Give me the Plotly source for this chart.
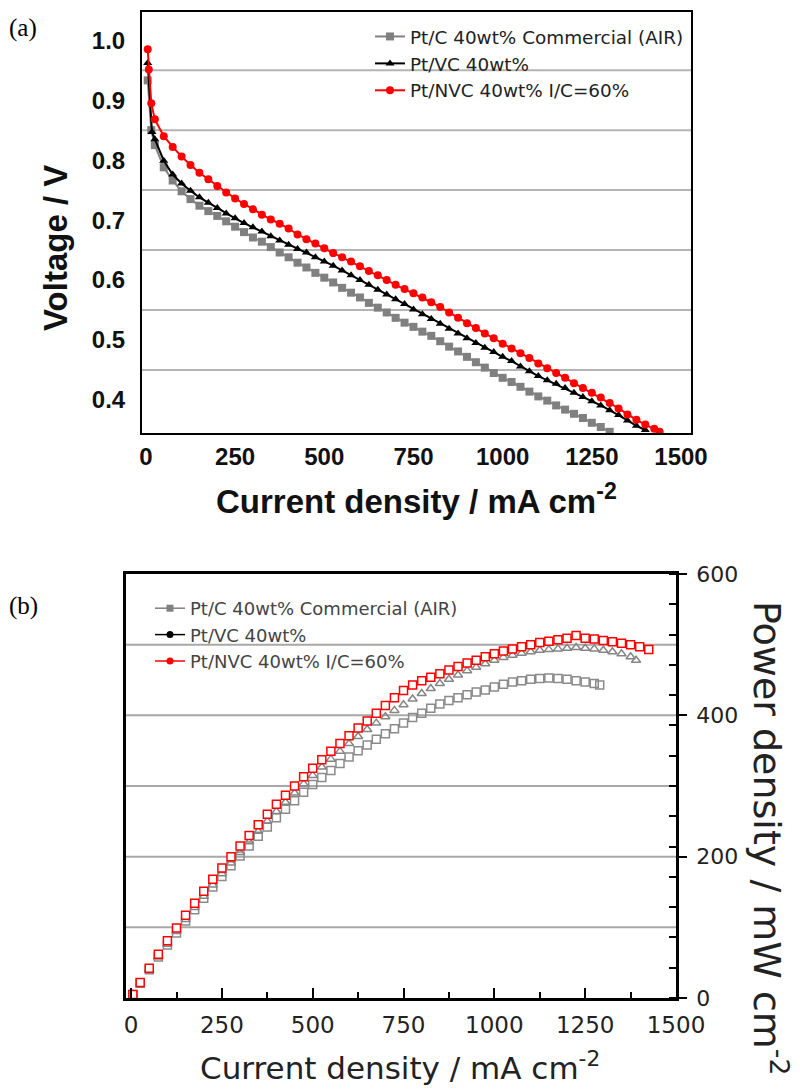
import plotly.graph_objects as go

# ---------------- Polarization data (panel a) ----------------
I_PTC = [5, 15, 25, 50, 75, 100, 125, 150, 175, 200, 225, 250, 275, 300, 325, 350, 375, 400,
         425, 450, 475, 500, 525, 550, 575, 600, 625, 650, 675, 700, 725, 750, 775, 800, 825,
         850, 875, 900, 925, 950, 975, 1000, 1025, 1050, 1075, 1100, 1125, 1150, 1175, 1200,
         1225, 1250, 1275, 1300]
V_PTC = [0.933, 0.850, 0.825, 0.788, 0.766, 0.748, 0.735, 0.724, 0.715, 0.707, 0.698, 0.689,
         0.680, 0.671, 0.664, 0.655, 0.646, 0.638, 0.629, 0.621, 0.612, 0.604, 0.596, 0.587,
         0.579, 0.571, 0.562, 0.554, 0.546, 0.537, 0.529, 0.522, 0.514, 0.507, 0.498, 0.489,
         0.481, 0.472, 0.463, 0.454, 0.445, 0.437, 0.430, 0.422, 0.414, 0.406, 0.399, 0.391,
         0.384, 0.377, 0.370, 0.362, 0.355, 0.347]

I_PTVC = [5, 17, 25, 50, 75, 100, 125, 150, 175, 200, 225, 250, 275, 300, 325, 350, 375, 400,
          425, 450, 475, 500, 525, 550, 575, 600, 625, 650, 675, 700, 725, 750, 775, 800, 825,
          850, 875, 900, 925, 950, 975, 1000, 1025, 1050, 1075, 1100, 1125, 1150, 1175, 1200,
          1225, 1250, 1275, 1300, 1325, 1350, 1375, 1400]
V_PTVC = [0.962, 0.847, 0.835, 0.799, 0.776, 0.761, 0.749, 0.738, 0.729, 0.720, 0.711, 0.703,
          0.695, 0.688, 0.681, 0.673, 0.666, 0.659, 0.652, 0.646, 0.638, 0.631, 0.624, 0.616,
          0.608, 0.600, 0.592, 0.584, 0.576, 0.568, 0.560, 0.551, 0.543, 0.535, 0.527, 0.519,
          0.511, 0.503, 0.495, 0.487, 0.480, 0.472, 0.465, 0.456, 0.448, 0.440, 0.433, 0.427,
          0.420, 0.412, 0.405, 0.398, 0.391, 0.383, 0.375, 0.366, 0.357, 0.350]

I_PTNVC = [5, 8, 15, 25, 50, 75, 100, 125, 150, 175, 200, 225, 250, 275, 300, 325, 350, 375,
           400, 425, 450, 475, 500, 525, 550, 575, 600, 625, 650, 675, 700, 725, 750, 775, 800,
           825, 850, 875, 900, 925, 950, 975, 1000, 1025, 1050, 1075, 1100, 1125, 1150, 1175,
           1200, 1225, 1250, 1275, 1300, 1325, 1350, 1375, 1400, 1425, 1440]
V_PTNVC = [0.985, 0.951, 0.895, 0.868, 0.840, 0.822, 0.806, 0.792, 0.779, 0.768, 0.757, 0.746,
           0.736, 0.727, 0.718, 0.709, 0.701, 0.694, 0.686, 0.676, 0.668, 0.661, 0.653, 0.645,
           0.638, 0.631, 0.623, 0.615, 0.608, 0.600, 0.592, 0.585, 0.578, 0.571, 0.563, 0.555,
           0.546, 0.537, 0.528, 0.520, 0.511, 0.503, 0.494, 0.486, 0.478, 0.470, 0.461, 0.453,
           0.445, 0.437, 0.428, 0.420, 0.412, 0.404, 0.395, 0.386, 0.376, 0.367, 0.359, 0.352,
           0.347]

# ---------------- Power density data (panel b) ----------------
IP_PTC = [5, 25, 50, 75, 100, 125, 150, 175, 200, 225, 250, 275, 300, 325, 350, 375, 400, 425,
          450, 475, 500, 525, 550, 575, 600, 625, 650, 675, 700, 725, 750, 775, 800, 825, 850,
          875, 900, 925, 950, 975, 1000, 1025, 1050, 1075, 1100, 1125, 1150, 1175, 1200, 1225,
          1250, 1275, 1290]
P_PTC = [5, 21, 40, 58, 75, 92, 109, 125, 141, 157, 172, 187, 201, 215, 229, 242, 255, 267,
         279, 291, 302, 312, 322, 332, 341, 350, 358, 366, 374, 381, 389, 397, 403, 410, 416,
         421, 425, 429, 433, 436, 440, 444, 447, 449, 451, 452, 453, 452, 451, 449, 447, 445,
         443]

IP_PTVC = [5, 25, 50, 75, 100, 125, 150, 175, 200, 225, 250, 275, 300, 325, 350, 375, 400, 425,
           450, 475, 500, 525, 550, 575, 600, 625, 650, 675, 700, 725, 750, 775, 800, 825, 850,
           875, 900, 925, 950, 975, 1000, 1025, 1050, 1075, 1100, 1125, 1150, 1175, 1200, 1225,
           1250, 1275, 1300, 1325, 1350, 1375, 1390]
P_PTVC = [5, 21, 40, 58, 76, 94, 111, 128, 144, 160, 176, 191, 206, 221, 236, 250, 264, 277,
          290, 303, 315, 327, 338, 349, 360, 370, 380, 389, 398, 407, 415, 423, 431, 438, 445,
          451, 457, 463, 468, 473, 478, 482, 485, 488, 490, 492, 493, 494, 495, 496, 495, 494,
          492, 490, 487, 483, 478]

IP_PTNVC = [5, 25, 50, 75, 100, 125, 150, 175, 200, 225, 250, 275, 300, 325, 350, 375, 400, 425,
            450, 475, 500, 525, 550, 575, 600, 625, 650, 675, 700, 725, 750, 775, 800, 825, 850,
            875, 900, 925, 950, 975, 1000, 1025, 1050, 1075, 1100, 1125, 1150, 1175, 1200, 1225,
            1250, 1275, 1300, 1325, 1350, 1375, 1400, 1425]
P_PTNVC = [5, 22, 42, 62, 81, 99, 117, 134, 151, 168, 184, 200, 215, 230, 245, 260, 274, 287,
           300, 313, 325, 337, 349, 360, 371, 382, 392, 403, 414, 425, 435, 443, 449, 454, 459,
           464, 469, 474, 478, 483, 487, 491, 494, 497, 500, 503, 505, 507, 509, 513, 509, 508,
           506, 504, 502, 500, 497, 493]

SERIES_NAMES = ["Pt/C 40wt% Commercial (AIR)", "Pt/VC 40wt%", "Pt/NVC 40wt% I/C=60%"]

V_TICKS = [0.4, 0.5, 0.6, 0.7, 0.8, 0.9, 1.0]
V_GRID = [0.45, 0.55, 0.65, 0.75, 0.85, 0.95]
I_TICKS = [0, 250, 500, 750, 1000, 1250, 1500]
P_TICKS = [0, 200, 400, 600]
P_GRID = [100, 200, 300, 400, 500]

W, H = 800, 1092
BOLD = "Liberation Sans"
PLAIN = "DejaVu Sans"
GRAY = "#808080"

fig = go.Figure()

# ---- panel (a): polarization curves ----
fig.add_trace(go.Scatter(x=I_PTC, y=V_PTC, name=SERIES_NAMES[0], mode="lines+markers",
                         line=dict(color=GRAY, width=2),
                         marker=dict(symbol="square", size=8, color=GRAY),
                         xaxis="x", yaxis="y", legend="legend"))
fig.add_trace(go.Scatter(x=I_PTVC, y=V_PTVC, name=SERIES_NAMES[1], mode="lines+markers",
                         line=dict(color="black", width=2),
                         marker=dict(symbol="triangle-up", size=8, color="black"),
                         xaxis="x", yaxis="y", legend="legend"))
fig.add_trace(go.Scatter(x=I_PTNVC, y=V_PTNVC, name=SERIES_NAMES[2], mode="lines+markers",
                         line=dict(color="#ff0000", width=2),
                         marker=dict(symbol="circle", size=8, color="#ff0000"),
                         xaxis="x", yaxis="y", legend="legend"))

# ---- panel (b): power density curves (open symbols) ----
fig.add_trace(go.Scatter(x=IP_PTC, y=P_PTC, mode="markers", showlegend=False,
                         marker=dict(symbol="square-open", size=8, color="#8a8a8a",
                                     line=dict(width=1.5)),
                         xaxis="x2", yaxis="y2"))
fig.add_trace(go.Scatter(x=IP_PTVC, y=P_PTVC, mode="markers", showlegend=False,
                         marker=dict(symbol="triangle-up-open", size=8, color="#858585",
                                     line=dict(width=1.5)),
                         xaxis="x2", yaxis="y2"))
fig.add_trace(go.Scatter(x=IP_PTNVC, y=P_PTNVC, mode="markers", showlegend=False,
                         marker=dict(symbol="square", size=8, color="white",
                                     line=dict(width=1.5, color="#ff0000")),
                         xaxis="x2", yaxis="y2"))

# legend entries for panel (b)
for name, col, sym in zip(SERIES_NAMES, [GRAY, "black", "#ff0000"], ["square", "circle", "circle"]):
    fig.add_trace(go.Scatter(x=[None], y=[None], name=name, mode="lines+markers",
                             line=dict(color=col, width=1.5),
                             marker=dict(symbol=sym, size=7, color=col),
                             xaxis="x2", yaxis="y2", legend="legend2"))

# horizontal grid lines
shapes = []
for v in V_GRID:
    shapes.append(dict(type="line", xref="x domain", yref="y", x0=0, x1=1, y0=v, y1=v,
                       line=dict(color="#b4b4b4", width=2), layer="below"))
for p in P_GRID:
    shapes.append(dict(type="line", xref="x2 domain", yref="y2", x0=0, x1=1, y0=p, y1=p,
                       line=dict(color="#a8a8a8", width=2), layer="below"))


def note(text, x, y, font, angle=0, xanchor="center"):
    return dict(text=text, x=x / W, y=1 - y / H, xref="paper", yref="paper", showarrow=False,
                textangle=angle, xanchor=xanchor, yanchor="middle", font=font)


serif = dict(family="Liberation Serif", size=25, color="black")
bold_title = dict(family=BOLD, size=33, color="#111", weight="bold")
plain_title = dict(family=PLAIN, size=31, color="#222")

annotations = [
    note("(a)", 7, 28, serif, xanchor="left"),
    note("(b)", 7, 606, serif, xanchor="left"),
    note("Voltage / V", 56, 248, bold_title, angle=-90),
    note("Current density / mA cm<sup>-2</sup>", 416, 499, bold_title),
    note("Current density / mA cm<sup>-2</sup>", 400, 1066, plain_title),
    note("Power density / mW cm<sup>-2</sup>", 770, 838, dict(family=PLAIN, size=38, color="#222"),
         angle=90),
]

fig.update_layout(
    template="none",
    width=W, height=H,
    margin=dict(l=0, r=0, t=0, b=0, pad=0),
    paper_bgcolor="white", plot_bgcolor="white",
    shapes=shapes, annotations=annotations,
    xaxis=dict(domain=[142 / W, 691 / W], range=[-11, 1528], tickvals=I_TICKS, automargin=False,
               showgrid=False, zeroline=False, showline=True, mirror=True,
               linecolor="black", linewidth=2, ticks="", ticklabelstandoff=1,
               tickfont=dict(family=BOLD, size=24, color="#111", weight="bold"), anchor="y"),
    yaxis=dict(domain=[1 - 433 / H, 1 - 12 / H], range=[0.345, 1.047], tickvals=V_TICKS,
               automargin=False,
               tickformat=".1f", showgrid=False, zeroline=False, showline=True, mirror=True,
               linecolor="black", linewidth=2, ticks="", ticklabelstandoff=10,
               tickfont=dict(family=BOLD, size=24, color="#111", weight="bold"), anchor="x"),
    xaxis2=dict(domain=[126 / W, 676 / W], range=[-14, 1500], tickvals=I_TICKS, automargin=False,
                showgrid=False, zeroline=False, showline=True, mirror=True,
                linecolor="black", linewidth=2.5, ticks="inside", ticklen=10, tickwidth=2,
                tickcolor="black",
                minor=dict(tickmode="linear", tick0=0, dtick=125, ticks="inside", ticklen=6,
                           tickwidth=2, tickcolor="black", showgrid=False),
                ticklabelstandoff=5,
                tickfont=dict(family=PLAIN, size=23, color="#222"), anchor="y2"),
    yaxis2=dict(domain=[1 - 998 / H, 1 - 574 / H], range=[0, 600], tickvals=P_TICKS,
                automargin=False,
                side="right", showgrid=False, zeroline=False, showline=True, mirror=True,
                linecolor="black", linewidth=2.5, ticks="outside", ticklen=8, tickwidth=2,
                tickcolor="black",
                minor=dict(tickmode="linear", tick0=0, dtick=600 / 14, ticks="inside",
                           ticklen=7, tickwidth=2, tickcolor="black", showgrid=False),
                ticklabelstandoff=5,
                tickfont=dict(family=PLAIN, size=22, color="#222"), anchor="x2"),
    legend=dict(x=370 / W, y=1 - 18 / H, xanchor="left", yanchor="top",
                bgcolor="rgba(0,0,0,0)", font=dict(family=PLAIN, size=18.4, color="#222"),
                tracegroupgap=0, borderwidth=0),
    legend2=dict(x=150 / W, y=1 - 590 / H, xanchor="left", yanchor="top",
                 bgcolor="rgba(0,0,0,0)", font=dict(family=PLAIN, size=18, color="#444"),
                 tracegroupgap=0, borderwidth=0),
)

fig.write_html("out.html")
